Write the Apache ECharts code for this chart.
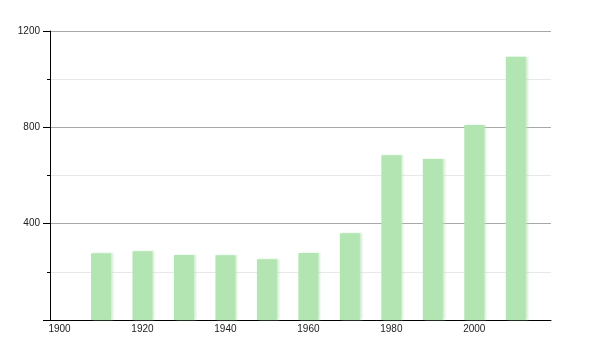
<!DOCTYPE html>
<html>
<head>
<meta charset="utf-8">
<script src="https://cdn.jsdelivr.net/npm/echarts@6/dist/echarts.min.js"></script>
<style>
html,body{margin:0;padding:0;background:#fff;}
#chart{width:600px;height:350px;}
</style>
</head>
<body>
<div id="chart"></div>
<script>
const years = [1910, 1920, 1930, 1940, 1950, 1960, 1970, 1980, 1990, 2000, 2010];
const values = [277, 285, 270, 269, 252, 278, 360, 684, 668, 810, 1093];
const xTickLabels = [1900, 1920, 1940, 1960, 1980, 2000];
const yTickLabels = [400, 800, 1200];

const chart = echarts.init(document.getElementById('chart'), null, {renderer: 'canvas'});
chart.setOption({
  animation: false,
  grid: {left: 50, right: 49, top: 31, bottom: 30, containLabel: false},
  xAxis: {
    type: 'value',
    min: 1897.7,
    max: 2018.5,
    splitLine: {show: false},
    axisTick: {show: false},
    axisLine: {show: true, lineStyle: {color: '#000', width: 1}},
    axisLabel: {
      showMinLabel: false, showMaxLabel: false,
      color: '#222', fontFamily: 'Liberation Sans, Arial, sans-serif', fontSize: 10,
      margin: 4,
      formatter: v => xTickLabels.indexOf(Math.round(v)) >= 0 && Math.abs(v - Math.round(v)) < 1e-6 ? String(Math.round(v)) : ''
    }
  },
  yAxis: {
    type: 'value',
    min: 0,
    max: 1200,
    interval: 400,
    axisLine: {show: true, lineStyle: {color: '#000', width: 1}},
    axisTick: {show: true, length: 7, lineStyle: {color: '#000'}},
    minorTick: {show: true, splitNumber: 2, length: 3, lineStyle: {color: '#000'}},
    splitLine: {show: true, lineStyle: {color: '#a8a8a8', width: 1}},
    minorSplitLine: {show: true, lineStyle: {color: '#e8e8e8', width: 1}},
    axisLabel: {
      color: '#222', fontFamily: 'Liberation Sans, Arial, sans-serif', fontSize: 10,
      margin: 10,
      formatter: v => yTickLabels.indexOf(v) >= 0 ? String(v) : ''
    }
  },
  series: [{
    type: 'bar',
    barWidth: 20,
    data: years.map((y, i) => [y, values[i]]),
    itemStyle: {
      color: '#b3e5b3',
      shadowColor: 'rgba(179,229,179,0.6)',
      shadowBlur: 2,
      shadowOffsetX: 2
    }
  }]
});
</script>
</body>
</html>
